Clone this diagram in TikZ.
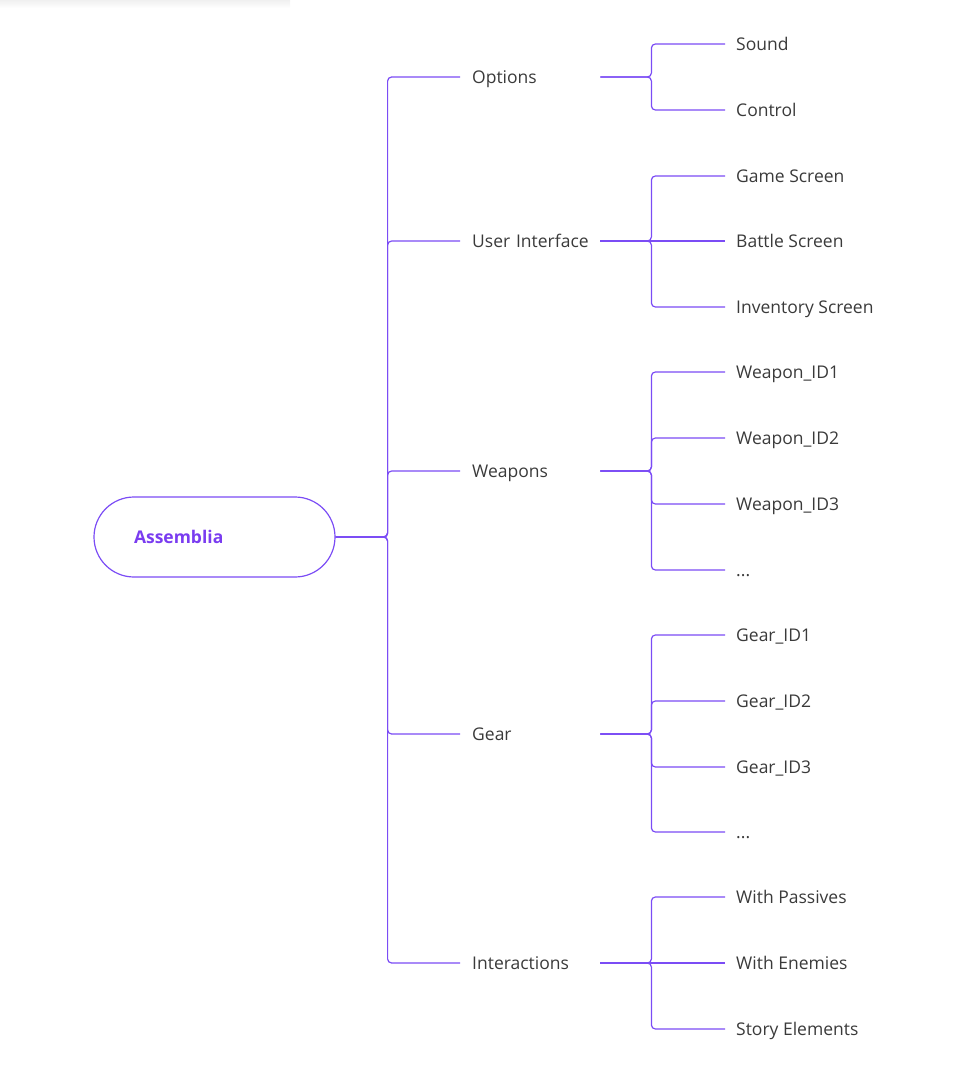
\documentclass[tikz,border=0pt]{standalone}
\usepackage{fontspec}
\setmainfont{Open Sans}
\usepackage{xcolor}
\usepackage{tikz}
\usetikzlibrary{calc}
\definecolor{linkviolet}{HTML}{7B4CF5}
\definecolor{rootviolet}{HTML}{7A3CF0}
\definecolor{labelgray}{HTML}{3A3A3A}
\tikzset{
  link/.style={draw=linkviolet, line width=1.2pt, rounded corners=4pt},
  topic/.style={anchor=west, inner xsep=12pt, inner ysep=0pt, text width=126pt,
    align=left, text height=12.5pt, text depth=0pt, text=labelgray,
    font=\fontsize{17.5}{20}\selectfont},
  leaf/.style={anchor=west, inner xsep=11pt, inner ysep=0pt,
    text height=12.5pt, text depth=0pt, text=labelgray,
    font=\fontsize{17.5}{20}\selectfont},
  rootnode/.style={draw=linkviolet, line width=1.2pt, rounded corners=40pt,
    minimum width=241pt, minimum height=80pt, inner xsep=40pt, text width=161pt,
    align=left, text height=12.5pt, text depth=0pt, text=rootviolet,
    font=\fontsize{17.5}{20}\selectfont\bfseries}
}

\begin{document}
\begin{tikzpicture}[x=1pt, y=-1pt]
  \useasboundingbox (0, 0) rectangle (975, 1084);
  \shade[top color=black!6, bottom color=white] (0, 0) rectangle (290, 8);

  % root
  \node[rootnode] (root) at (214.5, 537) {Assemblia};

  % first level
  \node[topic] (opt) at (460, 77) {Options};
  \node[topic] (ui) at (460, 241) {User Interface};
  \node[topic] (wpn) at (460, 471) {Weapons};
  \node[topic] (gear) at (460, 734) {Gear};
  \node[topic] (inter) at (460, 963) {Interactions};

  \foreach \t in {opt, ui, wpn, gear, inter}
    \draw[link] (root.east) -- ++(52, 0) |- (\t.west);

  % second level
  \node[leaf] (snd) at (725, 44) {Sound};
  \node[leaf] (ctrl) at (725, 110) {Control};

  \node[leaf] (game) at (725, 176) {Game Screen};
  \node[leaf] (bat) at (725, 241) {Battle Screen};
  \node[leaf] (inv) at (725, 307) {Inventory Screen};

  \node[leaf] (wa) at (725, 372) {Weapon\_ID1};
  \node[leaf] (wb) at (725, 438) {Weapon\_ID2};
  \node[leaf] (wc) at (725, 504) {Weapon\_ID3};
  \node[leaf] (wd) at (725, 570) {...};

  \node[leaf] (ga) at (725, 635) {Gear\_ID1};
  \node[leaf] (gb) at (725, 701) {Gear\_ID2};
  \node[leaf] (gc) at (725, 767) {Gear\_ID3};
  \node[leaf] (gd) at (725, 832) {...};

  \node[leaf] (pas) at (725, 897) {With Passives};
  \node[leaf] (ene) at (725, 963) {With Enemies};
  \node[leaf] (story) at (725, 1029) {Story Elements};

  % topics end at x=610, the line starts 10pt further left
  \foreach \l in {snd, ctrl}
    \draw[link] ([xshift=-10pt]opt.east) -- ++(51, 0) |- (\l.west);
  \foreach \l in {game, inv}
    \draw[link] ([xshift=-10pt]ui.east) -- ++(51, 0) |- (\l.west);
  \draw[link] ([xshift=-10pt]ui.east) -- (bat.west);
  \foreach \l in {wa, wb, wc, wd}
    \draw[link] ([xshift=-10pt]wpn.east) -- ++(51, 0) |- (\l.west);
  \foreach \l in {ga, gb, gc, gd}
    \draw[link] ([xshift=-10pt]gear.east) -- ++(51, 0) |- (\l.west);
  \foreach \l in {pas, story}
    \draw[link] ([xshift=-10pt]inter.east) -- ++(51, 0) |- (\l.west);
  \draw[link] ([xshift=-10pt]inter.east) -- (ene.west);
\end{tikzpicture}
\end{document}
